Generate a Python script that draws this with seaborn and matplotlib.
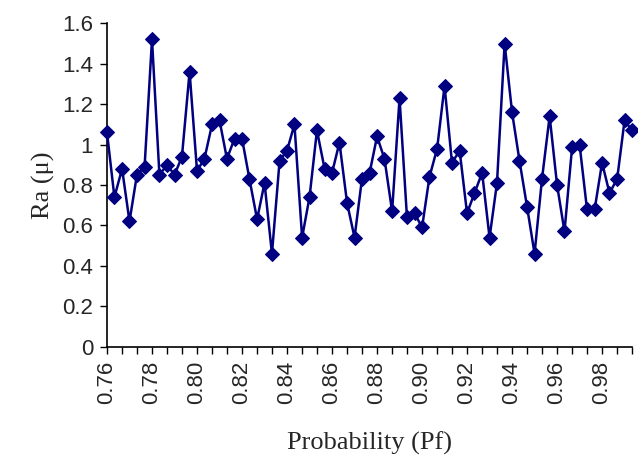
import matplotlib
matplotlib.use("Agg")
import matplotlib.pyplot as plt
import seaborn as sns
import pandas as pd
from matplotlib.ticker import FixedLocator

# Probability categories (Pf)
pf = [0.7600, 0.7633, 0.7667, 0.7700, 0.7733, 0.7767, 0.7800, 0.7833, 0.7867,
      0.7900, 0.7933, 0.7967, 0.8000, 0.8033, 0.8067, 0.8100, 0.8133, 0.8167,
      0.8200, 0.8233, 0.8267, 0.8300, 0.8333, 0.8367, 0.8400, 0.8433, 0.8467,
      0.8500, 0.8533, 0.8567, 0.8600, 0.8633, 0.8667, 0.8700, 0.8733, 0.8767,
      0.8800, 0.8833, 0.8867, 0.8900, 0.8933, 0.8967, 0.9000, 0.9033, 0.9067,
      0.9100, 0.9133, 0.9167, 0.9200, 0.9233, 0.9267, 0.9300, 0.9333, 0.9367,
      0.9400, 0.9433, 0.9467, 0.9500, 0.9533, 0.9567, 0.9600, 0.9633, 0.9667,
      0.9700, 0.9733, 0.9767, 0.9800, 0.9833, 0.9867, 0.9900, 0.9933]

# Ra (micron) values
ra = [1.06, 0.74, 0.88, 0.62, 0.85, 0.89, 1.52, 0.85, 0.90, 0.85, 0.94, 1.36,
      0.87, 0.93, 1.10, 1.12, 0.93, 1.03, 1.03, 0.83, 0.63, 0.81, 0.46, 0.92,
      0.97, 1.10, 0.54, 0.74, 1.07, 0.88, 0.86, 1.01, 0.71, 0.54, 0.83, 0.86,
      1.04, 0.93, 0.67, 1.23, 0.64, 0.66, 0.59, 0.84, 0.98, 1.29, 0.91, 0.97,
      0.66, 0.76, 0.86, 0.54, 0.81, 1.50, 1.16, 0.92, 0.69, 0.46, 0.83, 1.14,
      0.80, 0.57, 0.99, 1.00, 0.68, 0.68, 0.91, 0.76, 0.83, 1.12, 1.07]

x_ticks = [0.76, 0.78, 0.80, 0.82, 0.84, 0.86, 0.88, 0.90, 0.92, 0.94, 0.96, 0.98]
x_tick_labels = ["0.76", "0.78", "0.80", "0.82", "0.84", "0.86", "0.88",
                 "0.90", "0.92", "0.94", "0.96", "0.98"]
y_ticks = [0, 0.2, 0.4, 0.6, 0.8, 1.0, 1.2, 1.4, 1.6]
y_tick_labels = ["0", "0.2", "0.4", "0.6", "0.8", "1", "1.2", "1.4", "1.6"]

df = pd.DataFrame({"pf": pf, "ra": ra})

sns.set_style("ticks")
plt.rcParams["font.family"] = ["Liberation Sans", "DejaVu Sans"]

fig = plt.figure(figsize=(6.38, 4.57), dpi=100)
ax = fig.add_axes([0.1677, 0.2414, 0.9906 - 0.1677, 0.949 - 0.2414])

sns.lineplot(data=df, x="pf", y="ra", ax=ax, color="#000080", linewidth=1.8,
             marker="D", markersize=7.5, markeredgecolor="#000080",
             markerfacecolor="#000080", zorder=3, clip_on=False)

ax.set_xlim(pf[0], pf[-1])
ax.set_ylim(0, 1.6)
ax.set_xticks(x_ticks)
ax.set_xticklabels(x_tick_labels, rotation=90, fontsize=16)
ax.xaxis.set_minor_locator(FixedLocator(pf[::2]))
ax.set_yticks(y_ticks)
ax.set_yticklabels(y_tick_labels, fontsize=16)

ax.tick_params(axis="both", which="both", direction="out", length=5,
               width=1, color="black", pad=5)

for side in ["top", "right"]:
    ax.spines[side].set_visible(False)
for side in ["left", "bottom"]:
    ax.spines[side].set_color("black")
    ax.spines[side].set_linewidth(1.2)

ax.set_xlabel("Probability (Pf)", fontsize=19, family=["Liberation Serif"], labelpad=20)
ax.set_ylabel("Ra (\u03bc)", fontsize=19, family=["Liberation Serif"], labelpad=5)
ax.grid(False)

fig.savefig("out.png", dpi=100, facecolor="white")
